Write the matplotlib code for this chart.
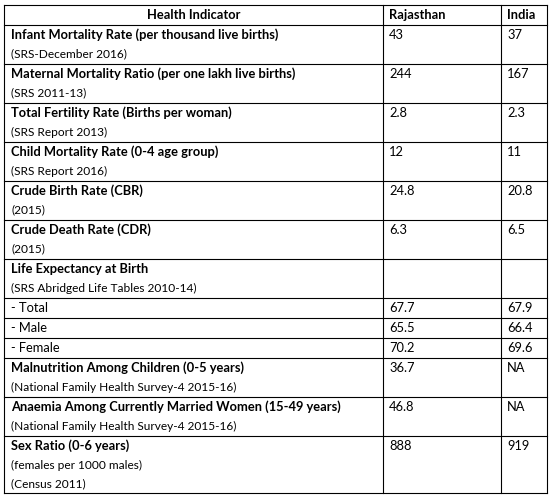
import matplotlib
matplotlib.use('Agg')
import matplotlib.pyplot as plt

# ---- table data ----
headers = ['Health Indicator', 'Rajasthan', 'India']
indicators = [
    'Infant Mortality Rate (per thousand live births)',
    'Maternal Mortality Ratio (per one lakh live births)',
    'Total Fertility Rate (Births per woman)',
    'Child Mortality Rate (0-4 age group)',
    'Crude Birth Rate (CBR)',
    'Crude Death Rate (CDR)',
    'Life Expectancy at Birth',
    '- Total',
    '- Male',
    '- Female',
    'Malnutrition Among Children (0-5 years)',
    'Anaemia Among Currently Married Women (15-49 years)',
    'Sex Ratio (0-6 years)',
]
sources = [
    ['(SRS-December 2016)'],
    ['(SRS 2011-13)'],
    ['(SRS Report 2013)'],
    ['(SRS Report 2016)'],
    ['(2015)'],
    ['(2015)'],
    ['(SRS Abridged Life Tables 2010-14)'],
    [], [], [],
    ['(National Family Health Survey-4 2015-16)'],
    ['(National Family Health Survey-4 2015-16)'],
    ['(females per 1000 males)', '(Census 2011)'],
]
bold_name = [True] * 7 + [False] * 3 + [True] * 3
rajasthan = ['43', '244', '2.8', '12', '24.8', '6.3', '', '67.7', '65.5', '70.2', '36.7', '46.8', '888']
india = ['37', '167', '2.3', '11', '20.8', '6.5', '', '67.9', '66.4', '69.6', 'NA', 'NA', '919']

# ---- layout (pixels) ----
W, H = 550, 500
col_x = [4, 383, 501, 547]
row_y = [5, 25, 64, 103, 142, 181, 220, 259, 298, 318, 338, 358, 397, 436, 493]

fig = plt.figure(figsize=(W / 100, H / 100), dpi=100)
ax = fig.add_axes([0, 0, 1, 1])
ax.set_xlim(0, W)
ax.set_ylim(H, 0)
ax.axis('off')

plt.rcParams['font.family'] = ['Lato', 'DejaVu Sans']
fs = 9.3
fs_small = 8.6

for x in col_x:
    ax.plot([x, x], [row_y[0], row_y[-1]], color='black', lw=0.8)
for y in row_y:
    ax.plot([col_x[0], col_x[-1]], [y, y], color='black', lw=0.8)

ax.text((col_x[0] + col_x[1]) / 2, 15, headers[0], ha='center', va='center', fontsize=fs, fontweight='bold')
ax.text(col_x[1] + 6, 15, headers[1], ha='left', va='center', fontsize=fs, fontweight='bold')
ax.text(col_x[2] + 6, 15, headers[2], ha='left', va='center', fontsize=fs, fontweight='bold')

for i, name in enumerate(indicators):
    top = row_y[i + 1]
    y0 = top + 10
    ax.text(col_x[0] + 7, y0, name, ha='left', va='center', fontsize=fs,
            fontweight='bold' if bold_name[i] else 'normal')
    for j, s in enumerate(sources[i]):
        ax.text(col_x[0] + 7, y0 + 19 * (j + 1), s, ha='left', va='center', fontsize=fs_small)
    ax.text(col_x[1] + 6, y0, rajasthan[i], ha='left', va='center', fontsize=fs)
    ax.text(col_x[2] + 6, y0, india[i], ha='left', va='center', fontsize=fs)

fig.savefig('out.png', dpi=100)
